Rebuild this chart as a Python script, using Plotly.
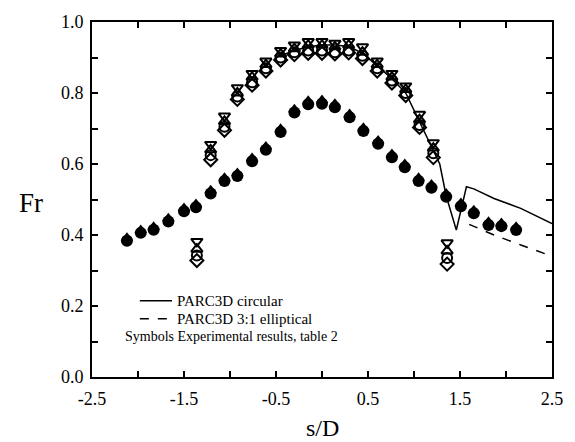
import plotly.graph_objects as go

# ---- data ----
s_up = [-1.36, -1.21, -1.06, -0.92, -0.76, -0.61, -0.45, -0.30, -0.15, 0.00, 0.14, 0.29,
        0.44, 0.60, 0.76, 0.91, 1.06, 1.21, 1.36]
fr_up_tridown = [0.382, 0.655, 0.735, 0.815, 0.855, 0.890, 0.920, 0.935, 0.945, 0.945, 0.940, 0.945,
                 0.930, 0.890, 0.855, 0.820, 0.740, 0.660, 0.378]
fr_up_triup = [0.360, 0.640, 0.720, 0.800, 0.845, 0.880, 0.910, 0.925, 0.935, 0.935, 0.930, 0.935,
               0.915, 0.880, 0.845, 0.810, 0.725, 0.645, 0.355]
fr_up_circle = [0.342, 0.625, 0.705, 0.790, 0.830, 0.870, 0.900, 0.915, 0.920, 0.920, 0.915, 0.920,
                0.905, 0.870, 0.835, 0.800, 0.710, 0.630, 0.335]
fr_up_diamond = [0.328, 0.612, 0.695, 0.782, 0.822, 0.862, 0.893, 0.908, 0.912, 0.912, 0.910, 0.913,
                 0.897, 0.862, 0.828, 0.793, 0.703, 0.618, 0.318]

s_lo = [-2.12, -1.97, -1.83, -1.67, -1.50, -1.37, -1.21, -1.06, -0.92, -0.76, -0.61, -0.45,
        -0.30, -0.15, 0.00, 0.14, 0.30, 0.45, 0.61, 0.76, 0.90, 1.05, 1.19, 1.35, 1.51,
        1.65, 1.81, 1.95, 2.11]
fr_lo_circle = [0.384, 0.406, 0.415, 0.438, 0.467, 0.478, 0.517, 0.552, 0.566, 0.608, 0.640, 0.690,
                0.745, 0.768, 0.770, 0.760, 0.732, 0.693, 0.657, 0.619, 0.591, 0.552, 0.533, 0.508,
                0.481, 0.461, 0.428, 0.425, 0.414]
fr_lo_tri = [0.392, 0.414, 0.423, 0.447, 0.476, 0.487, 0.526, 0.561, 0.575, 0.617, 0.649, 0.699,
             0.754, 0.778, 0.780, 0.770, 0.741, 0.702, 0.666, 0.628, 0.600, 0.561, 0.542, 0.517,
             0.490, 0.470, 0.437, 0.434, 0.423]

s_circ = [-0.45, -0.30, -0.15, 0.00, 0.15, 0.30, 0.45, 0.60, 0.76, 0.91, 1.06, 1.21, 1.28, 1.35,
          1.46, 1.57, 1.65, 1.87, 2.16, 2.50]
fr_circ = [0.905, 0.920, 0.930, 0.935, 0.935, 0.930, 0.910, 0.875, 0.840, 0.800, 0.720, 0.640,
           0.600, 0.510, 0.414, 0.536, 0.530, 0.503, 0.475, 0.432]

s_ell = [1.60, 1.87, 2.16, 2.50]
fr_ell = [0.430, 0.400, 0.372, 0.340]

x_tickvals = [-2.5, -1.5, -0.5, 0.5, 1.5, 2.5]
x_ticktext = ["-2.5", "-1.5", "-0.5", "0.5", "1.5", "2.5"]
y_tickvals = [0.0, 0.2, 0.4, 0.6, 0.8, 1.0]
y_ticktext = ["0.0", "0.2", "0.4", "0.6", "0.8", "1.0"]

legend_lines = ["PARC3D circular", "PARC3D 3:1 elliptical", "Symbols Experimental results, table 2"]

FONT = "Liberation Serif, Times New Roman, serif"
fig = go.Figure()

fig.add_trace(go.Scatter(x=s_circ, y=fr_circ, mode="lines",
                         line=dict(color="black", width=1.5), showlegend=False))
fig.add_trace(go.Scatter(x=s_ell, y=fr_ell, mode="lines",
                         line=dict(color="black", width=1.5, dash="dash"), showlegend=False))

open_sets = [(fr_up_tridown, "triangle-down-open"), (fr_up_triup, "triangle-up-open"),
             (fr_up_circle, "circle-open"), (fr_up_diamond, "diamond-open")]
for vals, sym in open_sets:
    fig.add_trace(go.Scatter(x=s_up, y=vals, mode="markers", showlegend=False,
                             marker=dict(symbol=sym, size=10, color="black",
                                         line=dict(color="black", width=2))))

fig.add_trace(go.Scatter(x=s_lo, y=fr_lo_tri, mode="markers", showlegend=False,
                         marker=dict(symbol="triangle-up", size=11, color="black")))
fig.add_trace(go.Scatter(x=s_lo, y=fr_lo_circle, mode="markers", showlegend=False,
                         marker=dict(symbol="circle", size=12, color="black")))

# legend drawn as lines + text inside the plot area
fig.add_shape(type="line", xref="x", yref="y", x0=-1.98, x1=-1.63, y0=0.215, y1=0.215,
              line=dict(color="black", width=1.5))
fig.add_shape(type="line", xref="x", yref="y", x0=-1.98, x1=-1.63, y0=0.164, y1=0.164,
              line=dict(color="black", width=1.5, dash="dash"))
fig.add_annotation(x=-1.6, y=0.215, xref="x", yref="y", text=legend_lines[0], showarrow=False,
                   xanchor="left", yanchor="middle", font=dict(family=FONT, size=15, color="black"))
fig.add_annotation(x=-1.6, y=0.164, xref="x", yref="y", text=legend_lines[1], showarrow=False,
                   xanchor="left", yanchor="middle", font=dict(family=FONT, size=15, color="black"))
fig.add_annotation(x=-2.16, y=0.113, xref="x", yref="y", text=legend_lines[2], showarrow=False,
                   xanchor="left", yanchor="middle", font=dict(family=FONT, size=14, color="black"))

fig.add_annotation(x=-0.133, y=0.49, xref="paper", yref="paper", text="Fr", showarrow=False,
                   xanchor="center", yanchor="middle", font=dict(family=FONT, size=27, color="black"))
fig.add_annotation(x=0.5, y=-0.145, xref="paper", yref="paper", text="s/D", showarrow=False,
                   xanchor="center", yanchor="middle", font=dict(family=FONT, size=24, color="black"))

fig.update_xaxes(range=[-2.5, 2.5], tickvals=x_tickvals, ticktext=x_ticktext,
                 ticks="inside", ticklen=6, tickwidth=1.5,
                 showline=True, linecolor="black", linewidth=2, mirror="ticks",
                 showgrid=False, zeroline=False, ticklabelstandoff=4,
                 tickfont=dict(family=FONT, size=18, color="black"),
                 minor=dict(tick0=-2.5, dtick=0.5, ticks="inside", ticklen=6, tickwidth=1.5,
                            tickcolor="black", showgrid=False),
                 tickcolor="black")
fig.update_yaxes(range=[0, 1.0], tickvals=y_tickvals, ticktext=y_ticktext,
                 ticks="inside", ticklen=6,
                 tickwidth=1.5, showline=True, linecolor="black", linewidth=2, mirror="ticks",
                 showgrid=False, zeroline=False, ticklabelstandoff=3,
                 tickfont=dict(family=FONT, size=18, color="black"),
                 minor=dict(dtick=0.1, ticks="inside", ticklen=6, tickwidth=1.5,
                            tickcolor="black", showgrid=False),
                 tickcolor="black")

fig.update_layout(width=575, height=442, margin=dict(l=92, r=16, t=15, b=65),
                  plot_bgcolor="white", paper_bgcolor="white", showlegend=False)

fig.write_html("out.html")
